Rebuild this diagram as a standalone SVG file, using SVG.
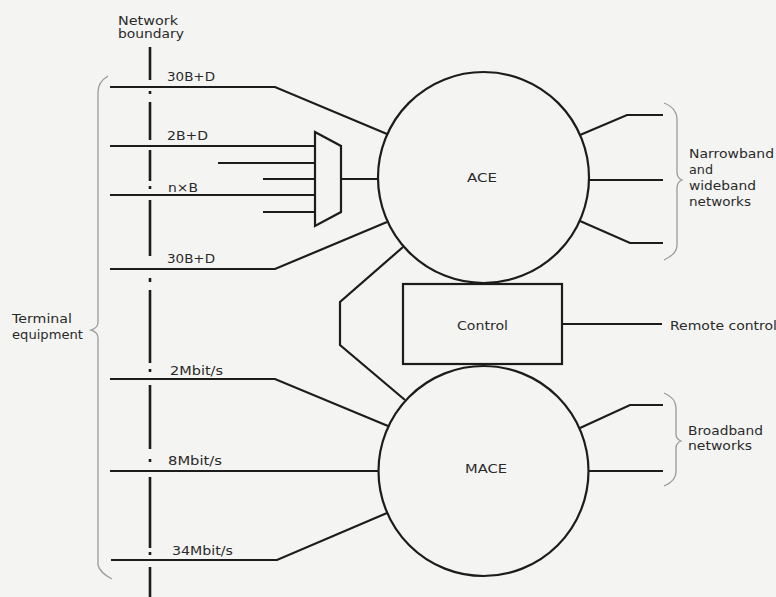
<svg xmlns="http://www.w3.org/2000/svg" width="776" height="597" viewBox="0 0 776 597">
<style>
.ln{fill:none;stroke:#1c1c1c;stroke-width:2.2;stroke-linejoin:miter}
.nd{fill:none;stroke:#1c1c1c;stroke-width:2.2}
.br{fill:none;stroke:#9a9a9a;stroke-width:1.3}
.bd{fill:none;stroke:#1c1c1c;stroke-width:2.6}
text{font-family:"DejaVu Sans","Liberation Sans",sans-serif;font-size:11.5px;fill:#2a2a2a}
.c{text-anchor:start}
</style>
<rect width="776" height="597" fill="#f4f4f2"/>
<g id="boundary">
<path class="bd" d="M150 47V80M150 91V94M150 102V140M150 150V181M150 186V189M150 200V256M150 278V282M150 290V363M150 369V372M150 385V449M150 459V462M150 477V548M150 552V555M150 567V597"/>
<text x="118" y="25" textLength="60" lengthAdjust="spacingAndGlyphs">Network</text>
<text x="118" y="38" textLength="66" lengthAdjust="spacingAndGlyphs">boundary</text>
</g>
<g id="terminal">
<path class="br" d="M108 76 Q98 82 98 92 L98 322 Q98 328 91 330 Q98 332 98 338 L98 565 Q100 573 112 579"/>
<text x="12" y="323" textLength="60" lengthAdjust="spacingAndGlyphs">Terminal</text>
<text x="12" y="339" textLength="71" lengthAdjust="spacingAndGlyphs">equipment</text>
</g>
<g id="mux">
<polygon class="nd" points="315,132 341,146 341,212 315,226"/>
</g>
<g id="ace">
<circle class="nd" cx="483.5" cy="177.5" r="105.5" fill="none"/>
<text x="467" y="182" textLength="30" lengthAdjust="spacingAndGlyphs">ACE</text>
</g>
<g id="control">
<rect class="nd" x="403" y="284" width="159" height="80"/>
<text x="457" y="330" textLength="51" lengthAdjust="spacingAndGlyphs">Control</text>
</g>
<g id="mace">
<circle class="nd" cx="483.5" cy="471" r="105" fill="none"/>
<text x="465" y="473" textLength="42" lengthAdjust="spacingAndGlyphs">MACE</text>
</g>
<g id="narrowband">
<path class="br" d="M664 103 Q677 108 677 120 L677 172 Q677 178 682 180 Q677 182 677 188 L677 245 Q677 254 664 260"/>
<text x="689" y="158" textLength="85" lengthAdjust="spacingAndGlyphs">Narrowband</text>
<text x="689" y="174" textLength="24" lengthAdjust="spacingAndGlyphs">and</text>
<text x="689" y="190" textLength="67" lengthAdjust="spacingAndGlyphs">wideband</text>
<text x="689" y="206" textLength="62" lengthAdjust="spacingAndGlyphs">networks</text>
</g>
<g id="broadband">
<path class="br" d="M664 393 Q676 398 676 408 L676 434 Q676 439 681 441 Q676 443 676 448 L676 472 Q676 481 664 486"/>
<text x="688" y="435" textLength="75" lengthAdjust="spacingAndGlyphs">Broadband</text>
<text x="688" y="450" textLength="64" lengthAdjust="spacingAndGlyphs">networks</text>
</g>
<g id="remote">
<text x="670" y="330" textLength="107" lengthAdjust="spacingAndGlyphs">Remote control</text>
</g>
<g id="connectors">
<path class="ln" d="M110 87H275L387 134"/>
<path class="ln" d="M110 146H315M218 163H315M263 179H315M110 195H315M263 212H315"/>
<path class="ln" d="M341 179H378"/>
<path class="ln" d="M110 269H275L387 222"/>
<path class="ln" d="M403 247L340 302V345L405 400"/>
<path class="ln" d="M580 135L627 115H663M589 180H663M580 221L630 243H663"/>
<path class="ln" d="M562 324H662"/>
<path class="ln" d="M110 379H275L388 426"/>
<path class="ln" d="M110 471H378"/>
<path class="ln" d="M111 560H277L387 513"/>
<path class="ln" d="M580 428L630 405H663M589 471H663"/>
</g>
<g id="labels">
<text x="167" y="81" textLength="48" lengthAdjust="spacingAndGlyphs">30B+D</text>
<text x="167" y="140" textLength="41" lengthAdjust="spacingAndGlyphs">2B+D</text>
<text x="168" y="192" textLength="30" lengthAdjust="spacingAndGlyphs">n×B</text>
<text x="167" y="263" textLength="48" lengthAdjust="spacingAndGlyphs">30B+D</text>
<text x="170" y="375" textLength="53" lengthAdjust="spacingAndGlyphs">2Mbit/s</text>
<text x="168" y="465" textLength="54" lengthAdjust="spacingAndGlyphs">8Mbit/s</text>
<text x="172" y="555" textLength="61" lengthAdjust="spacingAndGlyphs">34Mbit/s</text>
</g>
</svg>
